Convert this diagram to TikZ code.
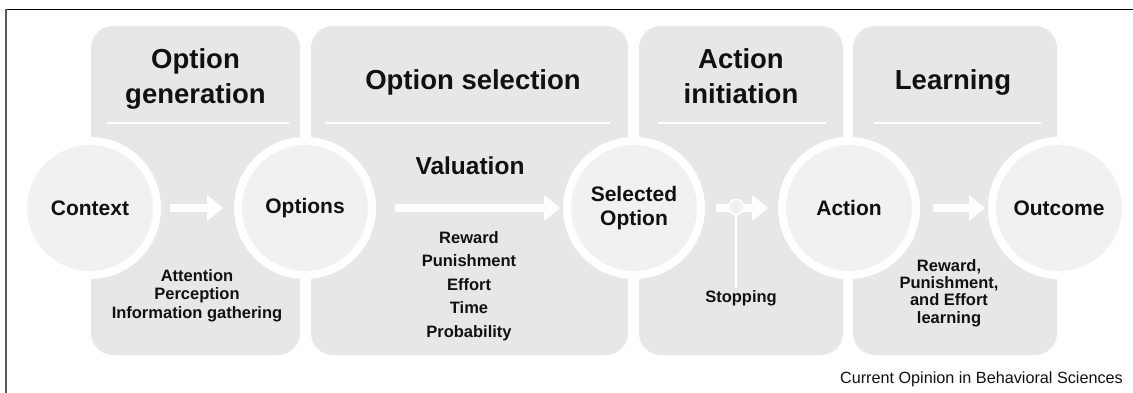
\documentclass[tikz,border=0pt]{standalone}
\usepackage{fontspec}
\setmainfont{Liberation Sans}
\usepackage{xcolor}
\usepackage{tikz}
\usetikzlibrary{arrows.meta, positioning}

\definecolor{panelgray}{RGB}{231,231,231}
\definecolor{circgray}{RGB}{241,241,241}
\definecolor{inkgray}{RGB}{17,17,17}
\definecolor{framegray}{RGB}{90,90,90}

\begin{document}
\begin{tikzpicture}[x=1pt,y=-1pt,
                    panel/.style={fill=panelgray,rounded corners=22pt},
                    divider/.style={draw=white,line width=1.5pt},
                    stage node/.style={circle,fill=circgray,draw=white,line width=8pt,minimum size=134pt,inner sep=0pt,align=center,text=inkgray,font=\bfseries\fontsize{21}{24}\selectfont},
                    title/.style={anchor=base,inner sep=0pt,align=center,text=inkgray,font=\bfseries\fontsize{27.5}{35}\selectfont},
                    small text/.style={anchor=base,inner sep=0pt,align=center,text=inkgray,font=\bfseries\fontsize{16.5}{18.5}\selectfont},
                    flow arrow/.style={draw=white,line width=8pt,-{Triangle[width=25pt,length=16pt,fill=white]}},
                    knob/.style={circle,fill=circgray,draw=white,line width=1.5pt,minimum size=15pt,inner sep=0pt}]

 \useasboundingbox (0,0) rectangle (1133,393);

 % frame
 \draw[line width=1.2pt] (6,9.5) -- (1133,9.5);
 \draw[framegray,line width=2pt] (6,9) -- (6,393);

 % the four stages
 \foreach \a/\b in {91/300, 311/628, 639/843, 853/1057}
   \fill[panel] (\a,26) rectangle (\b,355);
 \foreach \a/\b in {107/289, 325/610, 658/826, 874/1041}
   \draw[divider] (\a,123) -- (\b,123);

 % base of a multi-line node = its last line
 \node[title] (title1) at (195.5,104) {Option\\generation};
 \node[title] (title2) at (473,90) {Option selection};
 \node[title] (title3) at (741,104) {Action\\initiation};
 \node[title] (title4) at (953,90) {Learning};

 \node[stage node] (1) at (90,208) {Context};
 \node[stage node] (2) at (305,208) {Options};
 \node[stage node] (3) at (634,208) {Selected\\Option};
 \node[stage node] (4) at (849,208) {Action};
 \node[stage node] (5) at (1059,208) {Outcome};

 \draw[flow arrow,shorten <=9pt,shorten >=11pt] (1) -- (2);
 \draw[flow arrow,shorten <=19pt,shorten >=3pt] (2) -- (3);
 \draw[flow arrow,shorten <=11pt,shorten >=10pt] (3) -- (4);
 \draw[flow arrow,shorten <=13pt,shorten >=3pt] (4) -- (5);

 \node[title,font=\bfseries\fontsize{24.5}{28}\selectfont] (value2) at (470,175) {Valuation};

 \node[small text] (list1) at (197,318) {Attention\\Perception\\Information gathering};
 \node[small text,font=\bfseries\fontsize{16.5}{23.5}\selectfont] (list2) at (469,337) {Reward\\Punishment\\Effort\\Time\\Probability};
 \node[small text] (stop) at (741,302) {Stopping};
 \node[small text,font=\bfseries\fontsize{16.5}{17.3}\selectfont] (list4) at (949,323) {Reward,\\Punishment,\\and Effort\\learning};

 \node[knob] (knob) at (736,207) {};
 \draw[white,line width=2pt,shorten >=2pt] (knob) -- (knob |- stop.north);

 \node[anchor=base east,inner sep=0pt,text=inkgray,font=\fontsize{16.2}{18}\selectfont] (credit) at (1123,383) {Current Opinion in Behavioral Sciences};

\end{tikzpicture}
\end{document}
